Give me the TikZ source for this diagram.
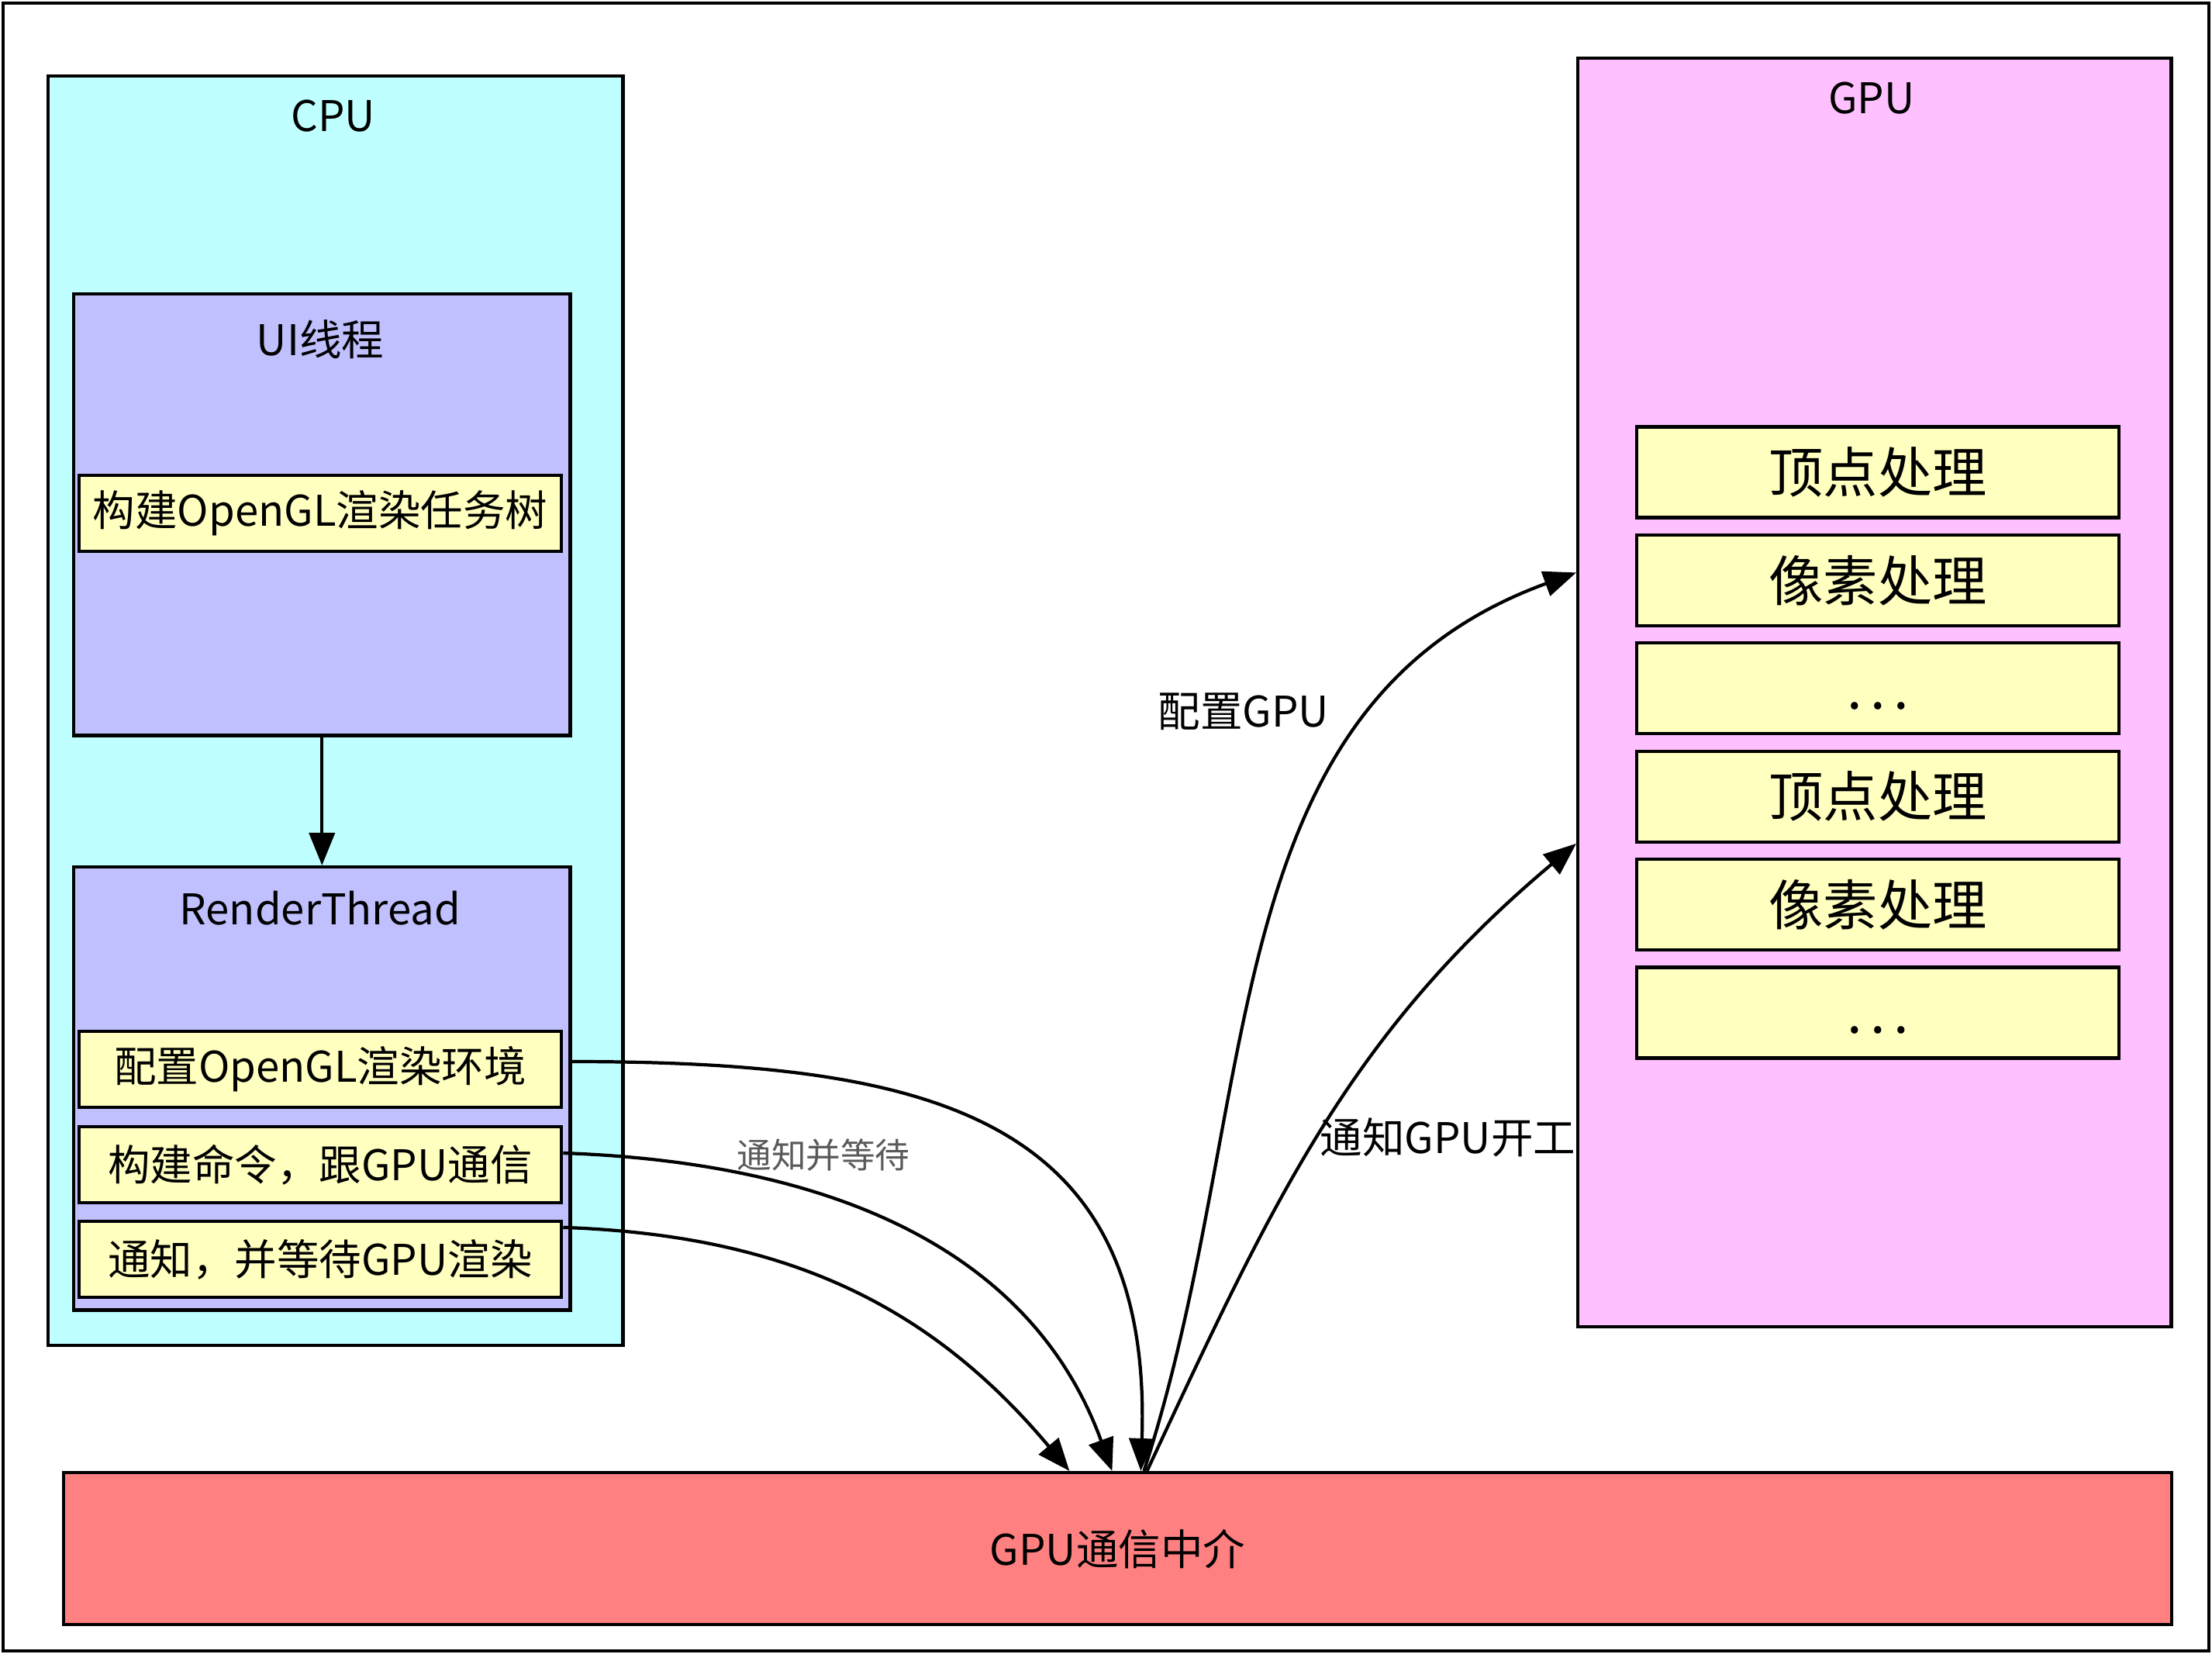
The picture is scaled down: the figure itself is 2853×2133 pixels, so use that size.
\documentclass[tikz,border=0pt]{standalone}
\usepackage{fontspec}
\setmainfont{Noto Sans CJK SC}
\usetikzlibrary{arrows.meta, calc}

\definecolor{cpucyan}{RGB}{192,255,255}
\definecolor{threadblue}{RGB}{192,192,255}
\definecolor{taskyellow}{RGB}{255,255,192}
\definecolor{gpupink}{RGB}{255,192,255}
\definecolor{hubred}{RGB}{255,128,128}
\definecolor{notegray}{RGB}{90,90,90}

\newcommand{\stagedots}{.\hspace{0.15em}.\hspace{0.15em}.}

\tikzset{
	panel/.style = {draw, line width = 1.2pt, anchor = north west, inner sep = 0pt},
	task/.style = {draw, line width = 1.2pt, fill = taskyellow, inner sep = 0pt,
		minimum width = 6.22cm, minimum height = 0.98cm, font = \fontsize{15.5}{18}\selectfont},
	stage/.style = {draw, line width = 1.2pt, fill = taskyellow, inner sep = 0pt,
		minimum width = 6.21cm, minimum height = 1.17cm, text height = 17.6pt, text depth = 2.4pt,
		font = \fontsize{20}{24}\selectfont},
	title/.style = {font = \fontsize{15.5}{18}\selectfont},
	flow/.style = {->, line width = 1.2pt}
}

\begin{document}
\begin{tikzpicture}[> = {Triangle[length = 4.2mm, width = 3.3mm]}, x = 0.01cm, y = 0.01cm]

	% Canvas and outer frame

	\useasboundingbox (0, 0) rectangle (2853, -2133);
	\draw [line width = 1.2pt] (4, -4) rectangle (2849, -2129);

	% CPU side

	\node [panel, fill = cpucyan, minimum width = 7.41cm, minimum height = 16.36cm] (cpu) at (60, -96) {};
	\node [title] (cputitle) at (430, -150) {CPU};

	\node [panel, fill = threadblue, minimum width = 6.40cm, minimum height = 5.69cm] (ui) at (93, -377) {};
	\node [title] (uititle) at (413, -438) {UI线程};
	\node [task] (tree) at (413, -662) {构建OpenGL渲染任务树};

	\node [panel, fill = threadblue, minimum width = 6.40cm, minimum height = 5.71cm] (render) at (93, -1116) {};
	\node [title] (rendertitle) at (413, -1171) {RenderThread};
	\node [task] (env) at (413, -1379) {配置OpenGL渲染环境};
	\node [task] (cmd) at (413, -1502) {构建命令，跟GPU通信};
	\node [task] (notify) at (413, -1624) {通知，并等待GPU渲染};

	\draw [flow] (ui) -- (render);

	% GPU side

	\node [panel, fill = gpupink, minimum width = 7.65cm, minimum height = 16.35cm] (gpu) at (2033, -73) {};
	\node [title] (gputitle) at (2414, -127) {GPU};

	\foreach \Lbl [count = \Q] in {顶点处理, 像素处理, \stagedots, 顶点处理, 像素处理, \stagedots}
		\node [stage] (g\Q) at (2422, {-609 - 139.4 * (\Q - 1)}) {\Lbl};

	% Channel between the two

	\node [panel, fill = hubred, minimum width = 27.17cm, minimum height = 1.96cm, title] (hub) at (80, -1897) {GPU通信中介};

	% RenderThread into the channel

	\draw [flow] ($(env.east) + (10, 10)$) to [out = 0, in = 88, looseness = 1.3] ($(hub.north) + (30, 0)$);
	\draw [flow] ($(cmd.east) + (0, 15)$) to [out = -2, in = 110] ($(hub.north) + (-7, 0)$);
	\draw [flow] ($(notify.north east) + (0, -10)$) to [out = -2, in = 130] ($(hub.north) + (-62, 0)$);

	% Channel up to the GPU

	\draw [flow] ($(hub.north) + (34, 0)$) to [out = 72, in = 200] ($(gpu.west |- g2.center) + (0, 10)$);
	\draw [flow] ($(hub.north) + (38, 0)$) to [out = 65, in = 220] (gpu.west |- g4.south);

	% Labels

	\node [font = \fontsize{12.7}{15}\selectfont, text = notegray] (waitnote) at (1062, -1490) {通知并等待};
	\node [title] (confnote) at (1604, -918) {配置GPU};
	\node [title, anchor = east, inner sep = 0pt] (startnote) at (2033, -1467) {通知GPU开工};

\end{tikzpicture}
\end{document}
